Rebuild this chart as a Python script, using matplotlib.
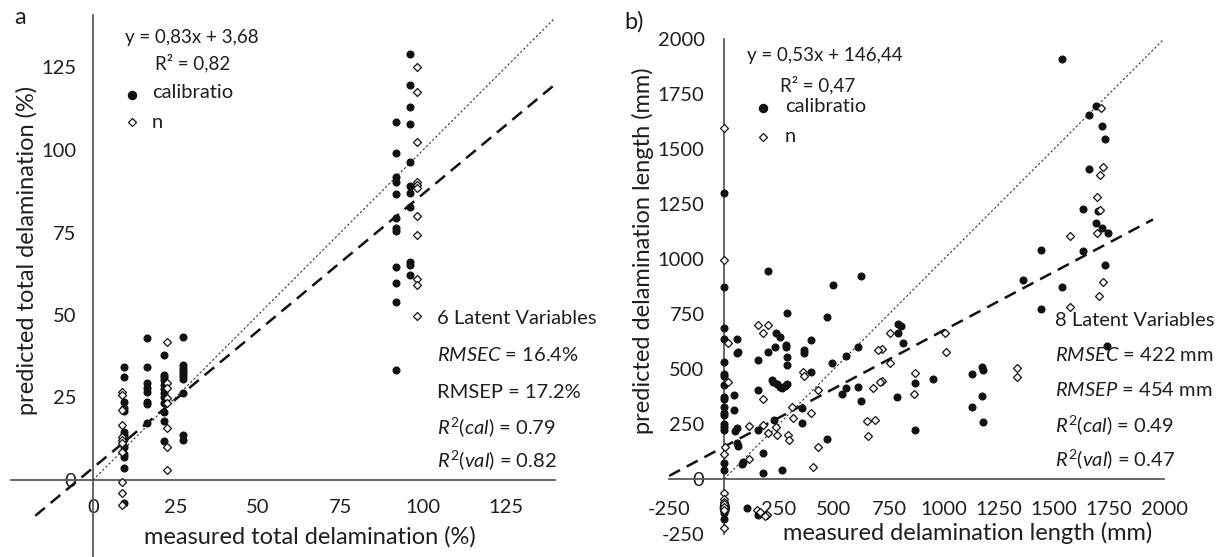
import matplotlib.pyplot as plt
from matplotlib.lines import Line2D
import numpy as np

W, H = 1223, 557
plt.rcParams['font.family'] = ['Lato', 'DejaVu Sans']
plt.rcParams['mathtext.fontset'] = 'custom'
plt.rcParams['mathtext.rm'] = 'Lato'
plt.rcParams['mathtext.it'] = 'Lato:italic'
plt.rcParams['axes.unicode_minus'] = False

TXT = '#1f1f1f'
AX = '#595959'
FS = 14.5      # ticks and annotations
FS_LAB = 17    # axis titles
FS_EQ = 13.5   # trendline equations

# ---- a) total delamination (%) ----
cal_a_x = [9.5] * 13 + [16.4] * 8 + [21.5] * 12 + [27.3] * 10 + [91.8] * 12 + [96.1] * 11
cal_a_y = [34.2, 31.1, 23.7, 21.7, 21.0, 14.6, 13.6, 12.3, 10.1, 7.8, 7.1, 3.5, -7.1,
           42.9, 34.3, 29.3, 27.8, 26.8, 23.7, 23.0, 17.4,
           37.9, 31.8, 31.1, 30.3, 28.8, 27.5, 26.3, 25.1, 23.2, 20.7, 18.0, 11.9,
           43.2, 34.8, 33.8, 33.1, 32.3, 31.5, 30.5, 26.3, 13.6, 12.1,
           108.4, 99.2, 91.9, 90.4, 86.7, 79.3, 76.3, 75.5, 64.4, 59.6, 54.0, 33.3,
           129.0, 119.7, 113.1, 107.9, 96.3, 89.1, 86.9, 82.6, 66.2, 65.2, 62.1]
val_a_x = [8.8] * 11 + [22.4] * 8 + [98.1] * 11
val_a_y = [26.8, 25.8, 21.2, 16.7, 13.1, 12.1, 11.1, 8.6, -0.5, -4.0, -7.6,
           41.9, 29.3, 27.8, 24.7, 23.2, 15.7, 10.1, 3.0,
           125.2, 117.5, 102.5, 90.4, 89.4, 88.4, 80.0, 74.2, 60.8, 59.1, 49.7]
fit_a = (0.83, 3.68)
fit_a_range = (-17.5, 140)
ticks_a = [0, 25, 50, 75, 100, 125]
stats_a = ['6 Latent Variables', r'$\it{RMSEC}$ = 16.4%', 'RMSEP = 17.2%',
           r'$\it{R^2(cal)}$ = 0.79', r'$\it{R^2(val)}$ = 0.82']

# ---- b) delamination length (mm) ----
cal_b = [(0, 1301), (0, 871), (202, 945), (494, 882), (621, 924),
         (1535, 1908), (1691, 1695), (1661, 1655), (1720, 1606), (1732, 1544),
         (1661, 1409), (1633, 1226), (1702, 1220), (1691, 1162), (1717, 1142),
         (1744, 1120), (1441, 1041), (1633, 1038), (1732, 973), (1361, 905),
         (1535, 871), (1441, 771), (1742, 605), (792, 705), (803, 695), (792, 665),
         (812, 617), (868, 438), (951, 455), (785, 374), (868, 223), (1126, 477),
         (1171, 511), (1176, 495), (1171, 379), (1126, 326), (1176, 261),
         (0, 685), (0, 635), (0, 533), (0, 477), (0, 468), (0, 427), (0, 374),
         (0, 362), (0, 329), (0, 301), (0, 291), (0, 250), (0, 235), (0, 223),
         (0, 74), (0, 41), (0, -110), (0, -130), (0, -156), (0, -183),
         (58, 635), (58, 571), (65, 579), (47, 382), (47, 314), (58, 230),
         (50, 220), (58, 162), (65, 150), (88, 79), (80, 68),
         (156, 541), (156, 405), (156, 223), (176, 120), (176, 29),
         (201, 579), (232, 601), (236, 665), (255, 644), (285, 753),
         (217, 450), (224, 442), (240, 432), (255, 420), (262, 412), (277, 423),
         (285, 432), (229, 268), (282, 609), (282, 601), (285, 556), (285, 518),
         (262, 41), (353, 321), (353, 253), (365, 586), (365, 571), (395, 632),
         (395, 488), (467, 735), (467, 180), (492, 526), (555, 559), (536, 386),
         (555, 412), (610, 601), (610, 417), (623, 356), (103, -133), (156, -164)]
val_b = [(0, 1594), (0, 995), (1712, 1688), (1721, 1420), (1709, 1382),
         (1694, 1280), (1711, 1223), (1694, 1117), (1573, 1105), (1721, 894),
         (1706, 832), (1573, 780), (755, 665), (1005, 662), (1009, 579),
         (717, 589), (755, 526), (868, 483), (865, 386), (717, 447), (1333, 503),
         (1333, 462), (17, 620), (20, 442), (5, 147), (0, 114), (0, -62),
         (0, -92), (0, -103), (0, -114), (0, -126), (0, -141), (0, -224),
         (115, 89), (115, 241), (156, 700), (176, 662), (201, 700), (176, 362),
         (176, 245), (201, 208), (236, 238), (240, 200), (292, 200), (297, 177),
         (308, 329), (312, 276), (360, 488), (364, 468), (395, 299), (429, 405),
         (429, 147), (403, 56), (679, 412), (649, 265), (686, 268), (656, 195),
         (701, 586), (709, 442), (149, -141), (164, -149), (194, -164), (186, -170)]
fit_b = (0.53, 146.44)
fit_b_range = (-250, 1950)
ticks_b = [-250, 0, 250, 500, 750, 1000, 1250, 1500, 1750, 2000]
stats_b = ['8 Latent Variables', r'$\it{RMSEC}$ = 422 mm', r'$\it{RMSEP}$ = 454 mm',
           r'$\it{R^2(cal)}$ = 0.49', r'$\it{R^2(val)}$ = 0.47']

fig = plt.figure(figsize=(W / 100, H / 100), dpi=100)


def fx(px):
    return px / W


def fy(py):
    return 1 - py / H


def place(ox, oy, k, xlim, ylim):
    # axes box from pixel origin and pixels-per-unit
    x0, x1 = ox + xlim[0] * k, ox + xlim[1] * k
    y0, y1 = oy - ylim[1] * k, oy - ylim[0] * k
    ax = fig.add_axes([x0 / W, 1 - y1 / H, (x1 - x0) / W, (y1 - y0) / H])
    ax.set_xlim(xlim)
    ax.set_ylim(ylim)
    return ax


def style(ax, xt, yt, padx, pady):
    for s in ['top', 'right']:
        ax.spines[s].set_visible(False)
    for s in ['left', 'bottom']:
        ax.spines[s].set_position(('data', 0))
        ax.spines[s].set_color(AX)
        ax.spines[s].set_linewidth(1.3)
    ax.set_xticks(xt)
    ax.set_yticks(yt)
    ax.tick_params(length=0, labelsize=FS, labelcolor=TXT)
    ax.tick_params(axis='x', pad=padx)
    ax.tick_params(axis='y', pad=pady)
    ax.patch.set_visible(False)


def draw(ax, cx, cy, vx, vy, fit, rng, lim):
    ax.plot(cx, cy, 'o', ms=4.8, color='#111111', zorder=4, clip_on=False)
    ax.plot(vx, vy, 'D', ms=4.5, mfc='white', mec='#111111', mew=0.9,
            zorder=5, clip_on=False)
    xs = np.array(rng)
    ax.plot(xs, fit[0] * xs + fit[1], color='#111111', lw=1.8,
            dashes=(5, 3), zorder=3)
    ax.plot([0, lim], [0, lim], color='#333333', lw=0.8, dashes=(2, 2), zorder=3)


def legend(x, y1, y2):
    fig.add_artist(Line2D([fx(x)], [fy(y1)], marker='o', ms=5.8, color='#111111',
                          transform=fig.transFigure))
    fig.add_artist(Line2D([fx(x)], [fy(y2)], marker='D', ms=4.5, mfc='white',
                          mec='#111111', mew=0.9, transform=fig.transFigure))


# panel a
ax1 = place(93, 480, 3.3, (-25, 140), (-23, 141))
style(ax1, ticks_a, ticks_a, 14, 12)
draw(ax1, cal_a_x, cal_a_y, val_a_x, val_a_y, fit_a, fit_a_range, 140)

fig.text(fx(20), fy(18), 'a', ha='center', va='center', size=17, color=TXT)
fig.text(fx(125), fy(38), 'y = 0,83x + 3,68', ha='left', va='center', size=FS_EQ, color=TXT)
fig.text(fx(155), fy(63), 'R² = 0,82', ha='left', va='center', size=FS_EQ, color=TXT)
legend(132, 95, 122)
fig.text(fx(152), fy(93), 'calibratio', ha='left', va='center', size=FS, color=TXT)
fig.text(fx(152), fy(122), 'n', ha='left', va='center', size=FS, color=TXT)
for s, yy in zip(stats_a, [318, 355, 392, 427, 460]):
    fig.text(fx(437), fy(yy), s, ha='left', va='center', size=FS, color=TXT)
fig.text(fx(27), fy(250), 'predicted total delamination (%)', rotation=90,
         ha='center', va='center', size=FS_LAB, color=TXT)
fig.text(fx(310), fy(537), 'measured total delamination (%)', ha='center',
         va='center', size=FS_LAB, color=TXT)

# panel b
ax2 = place(724, 479, 0.22, (-250, 2000), (-250, 2000))
style(ax2, ticks_b, ticks_b, 16, 14)
cbx, cby = zip(*cal_b)
vbx, vby = zip(*val_b)
draw(ax2, cbx, cby, vbx, vby, fit_b, fit_b_range, 2000)

fig.text(fx(634), fy(22), 'b)', ha='center', va='center', size=17, color=TXT)
fig.text(fx(747), fy(55), 'y = 0,53x + 146,44', ha='left', va='center', size=FS_EQ, color=TXT)
fig.text(fx(780), fy(85), 'R² = 0,47', ha='left', va='center', size=FS_EQ, color=TXT)
legend(763, 108, 137)
fig.text(fx(785), fy(107), 'calibratio', ha='left', va='center', size=FS, color=TXT)
fig.text(fx(785), fy(137), 'n', ha='left', va='center', size=FS, color=TXT)
for s, yy in zip(stats_b, [320, 355, 390, 425, 459]):
    fig.text(fx(1055), fy(yy), s, ha='left', va='center', size=FS, color=TXT)
fig.text(fx(643), fy(251), 'predicted delamination length (mm)', rotation=90,
         ha='center', va='center', size=FS_LAB, color=TXT)
fig.text(fx(968), fy(533), 'measured delamination length (mm)', ha='center',
         va='center', size=FS_LAB, color=TXT)

fig.savefig('out.png', dpi=100, facecolor='white')
